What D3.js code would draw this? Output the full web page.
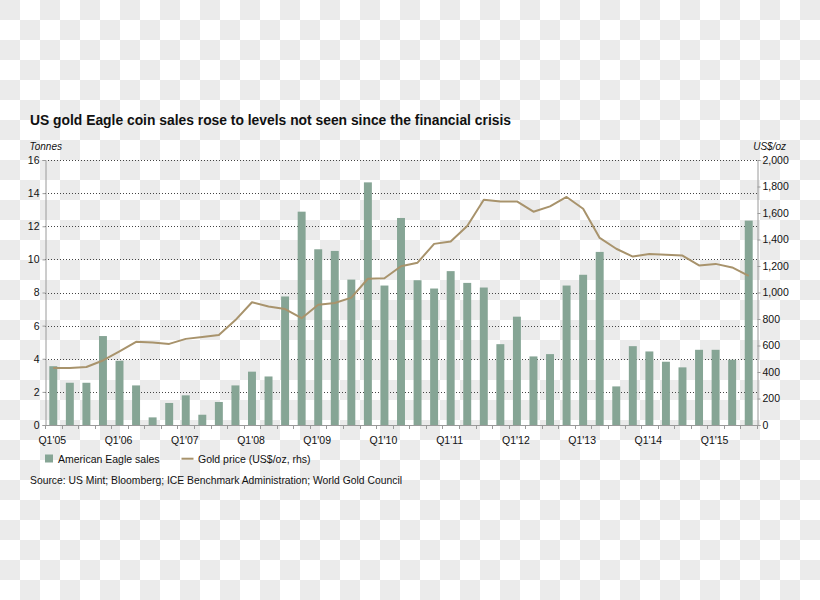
<!DOCTYPE html>
<html>
<head>
<meta charset="utf-8">
<script src="https://cdn.jsdelivr.net/npm/d3@7"></script>
<style>
  html, body { margin: 0; padding: 0; background: #fff; }
  svg { display: block; }
  text { font-family: "Liberation Sans", Arial, Helvetica, sans-serif; fill: #111; }
</style>
</head>
<body>
<svg id="chart" width="820" height="600"></svg>
<script>
// ---- data ----
const quarters = [
  "Q1'05","Q2'05","Q3'05","Q4'05",
  "Q1'06","Q2'06","Q3'06","Q4'06",
  "Q1'07","Q2'07","Q3'07","Q4'07",
  "Q1'08","Q2'08","Q3'08","Q4'08",
  "Q1'09","Q2'09","Q3'09","Q4'09",
  "Q1'10","Q2'10","Q3'10","Q4'10",
  "Q1'11","Q2'11","Q3'11","Q4'11",
  "Q1'12","Q2'12","Q3'12","Q4'12",
  "Q1'13","Q2'13","Q3'13","Q4'13",
  "Q1'14","Q2'14","Q3'14","Q4'14",
  "Q1'15","Q2'15","Q3'15"
];
const eagleSales = [
  3.55, 2.55, 2.55, 5.37,
  3.88, 2.39, 0.46, 1.33,
  1.79, 0.62, 1.39, 2.39,
  3.22, 2.93, 7.76, 12.88,
  10.61, 10.51, 8.78, 14.65,
  8.42, 12.50, 8.74, 8.24,
  9.29, 8.58, 8.30, 4.88,
  6.54, 4.14, 4.28, 8.42,
  9.07, 10.45, 2.33, 4.76,
  4.44, 3.82, 3.48, 4.54,
  4.54, 3.94, 12.34
];
const goldPrice = [
  430, 430, 438, 487,
  556, 628, 622, 612,
  650, 664, 680, 792,
  926, 895, 875, 806,
  908, 921, 961, 1104,
  1108, 1198, 1225, 1367,
  1385, 1502, 1700, 1687,
  1687, 1610, 1650, 1721,
  1632, 1412, 1330, 1271,
  1291, 1285, 1279, 1204,
  1216, 1189, 1126
];
const leftTicks = [0, 2, 4, 6, 8, 10, 12, 14, 16];
const rightTicks = [0, 200, 400, 600, 800, 1000, 1200, 1400, 1600, 1800, 2000];
const labelQuarters = ["Q1'05","Q1'06","Q1'07","Q1'08","Q1'09","Q1'10","Q1'11","Q1'12","Q1'13","Q1'14","Q1'15"];

// ---- setup ----
const svg = d3.select("#chart");
const W = 820, H = 600;

// checkerboard background
const defs = svg.append("defs");
const pat = defs.append("pattern").attr("id", "chk")
  .attr("patternUnits", "userSpaceOnUse").attr("width", 40).attr("height", 40);
pat.append("rect").attr("width", 40).attr("height", 40).attr("fill", "#ffffff");
pat.append("rect").attr("x", 0).attr("y", 0).attr("width", 20).attr("height", 20).attr("fill", "#ebebeb");
pat.append("rect").attr("x", 20).attr("y", 20).attr("width", 20).attr("height", 20).attr("fill", "#ebebeb");
svg.append("rect").attr("width", W).attr("height", H).attr("fill", "url(#chk)");

const pLeft = 45, pRight = 757, pTop = 160, pBottom = 425;

const x = d3.scaleBand().domain(quarters).range([pLeft, pRight])
  .paddingInner(0.52).paddingOuter(0.26);
const yL = d3.scaleLinear().domain([0, 16]).range([pBottom, pTop]);
const yR = d3.scaleLinear().domain([0, 2000]).range([pBottom, pTop]);
const step = x.step();
const bw = x.bandwidth();

const barColor = "#86a595";
const lineColor = "#a8936c";
const axisColor = "#9a9a9a";

// title
svg.append("text").attr("x", 30).attr("y", 125)
  .attr("font-size", 14.5).attr("font-weight", "bold")
  .attr("textLength", 481).attr("lengthAdjust", "spacingAndGlyphs")
  .text("US gold Eagle coin sales rose to levels not seen since the financial crisis");

// axis unit labels
svg.append("text").attr("x", 29.5).attr("y", 149.5)
  .attr("font-size", 10).attr("font-style", "italic").text("Tonnes");
svg.append("text").attr("x", 786).attr("y", 149.5).attr("text-anchor", "end")
  .attr("font-size", 10).attr("font-style", "italic").text("US$/oz");

// gridlines (dotted)
svg.append("g").selectAll("line").data(leftTicks.filter(d => d > 0)).join("line")
  .attr("x1", pLeft).attr("x2", pRight)
  .attr("y1", d => Math.round(yL(d)) + 0.5).attr("y2", d => Math.round(yL(d)) + 0.5)
  .attr("stroke", "#444").attr("stroke-width", 1).attr("stroke-dasharray", "1,2");

// bars
svg.append("g").selectAll("rect").data(quarters).join("rect")
  .attr("x", d => x(d))
  .attr("width", bw)
  .attr("y", (d, i) => yL(eagleSales[i]))
  .attr("height", (d, i) => yL(0) - yL(eagleSales[i]))
  .attr("fill", barColor);

// gold line
const line = d3.line()
  .x((d, i) => x(quarters[i]) + bw / 2)
  .y(d => yR(d));
svg.append("path").datum(goldPrice)
  .attr("d", line)
  .attr("fill", "none").attr("stroke", lineColor).attr("stroke-width", 2)
  .attr("stroke-linejoin", "round");

// left axis
const gL = svg.append("g").attr("transform", `translate(${pLeft + 0.5},0)`)
  .call(d3.axisLeft(yL).tickValues(leftTicks).tickSize(3).tickPadding(3).tickFormat(d3.format("d")));
gL.select(".domain").attr("stroke", axisColor);
gL.selectAll(".tick line").attr("stroke", axisColor);
gL.selectAll(".tick text").attr("font-size", 10.5).attr("fill", "#111")
  .attr("font-family", "Liberation Sans, Arial, sans-serif");

// right axis
const gR = svg.append("g").attr("transform", `translate(${pRight + 0.5},0)`)
  .call(d3.axisRight(yR).tickValues(rightTicks).tickSize(3).tickPadding(2).tickFormat(d3.format(",")));
gR.select(".domain").attr("stroke", axisColor);
gR.selectAll(".tick line").attr("stroke", axisColor);
gR.selectAll(".tick text").attr("font-size", 10.5).attr("fill", "#111")
  .attr("font-family", "Liberation Sans, Arial, sans-serif");

// x axis baseline
svg.append("line").attr("x1", pLeft).attr("x2", pRight)
  .attr("y1", pBottom + 0.5).attr("y2", pBottom + 0.5).attr("stroke", axisColor);

// x ticks at quarter boundaries
const boundaries = quarters.map(q => x(q) + bw / 2 - step / 2).concat([x(quarters[quarters.length - 1]) + bw / 2 + step / 2]);
svg.append("g").selectAll("line").data(boundaries).join("line")
  .attr("x1", d => Math.round(d) + 0.5).attr("x2", d => Math.round(d) + 0.5)
  .attr("y1", pBottom).attr("y2", pBottom + 4)
  .attr("stroke", axisColor);

// x labels
svg.append("g").selectAll("text").data(labelQuarters).join("text")
  .attr("x", d => x(d) + bw / 2 - 1)
  .attr("y", 443.5)
  .attr("text-anchor", "middle")
  .attr("font-size", 10.5)
  .text(d => d);

// legend
svg.append("rect").attr("x", 45).attr("y", 454.5).attr("width", 8).attr("height", 8).attr("fill", barColor);
svg.append("text").attr("x", 58).attr("y", 462.5).attr("font-size", 10.5).text("American Eagle sales");
svg.append("line").attr("x1", 181.5).attr("x2", 193.5).attr("y1", 458.7).attr("y2", 458.7)
  .attr("stroke", lineColor).attr("stroke-width", 2);
svg.append("text").attr("x", 198).attr("y", 462.5).attr("font-size", 10.5).text("Gold price (US$/oz, rhs)");

// source
svg.append("text").attr("x", 30).attr("y", 484).attr("font-size", 10.5)
  .attr("textLength", 372).attr("lengthAdjust", "spacingAndGlyphs")
  .text("Source: US Mint; Bloomberg; ICE Benchmark Administration; World Gold Council");
</script>
</body>
</html>
